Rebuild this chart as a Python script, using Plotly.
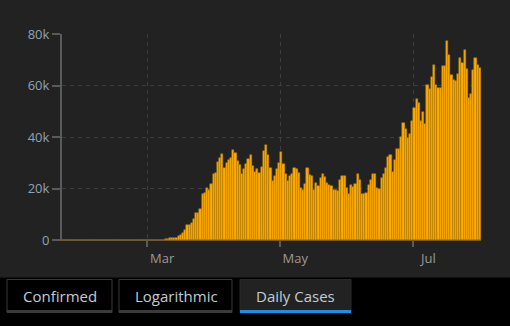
import pandas as pd
import plotly.graph_objects as go

# Daily new cases (US), Jan 22 - Jul 31 2020
jan = [1, 0, 1, 0, 3, 0, 0, 0, 1, 1]
feb = [1, 1, 3, 0, 1, 0, 0, 0, 0, 0, 1, 1, 1, 0, 0, 0, 10, 0, 0, 0,
       2, 0, 0, 18, 0, 6, 1, 2, 8]
mar = [6, 23, 20, 31, 68, 45, 140, 116, 200, 300, 700, 800, 800, 750,
       1500, 2000, 2800, 3800, 5700, 5800, 6600, 8200, 10400, 10600,
       12000, 18000, 18400, 20200, 19400, 21700, 25800]
apr = [26200, 30400, 31800, 33400, 28000, 30000, 30900, 31800, 34800,
       33900, 30500, 29000, 25700, 27600, 29500, 31400, 32900, 28600,
       26300, 27600, 26000, 28500, 34600, 36800, 33100, 28000, 22800,
       24700, 27600, 30000]
may = [34300, 29500, 25700, 22800, 24700, 25600, 28000, 27600, 26000,
       20200, 19300, 21800, 28000, 25200, 24700, 19300, 22100, 20800,
       24000, 25600, 24600, 22100, 21200, 20800, 19400, 19300, 19000,
       23200, 24700, 24700, 20200]
jun = [18000, 21200, 20500, 21700, 25600, 23200, 18000, 18000, 18200,
       21200, 23200, 25600, 25600, 20200, 19900, 24000, 25600, 28000,
       32100, 32900, 26400, 30900, 35300, 35300, 40100, 45500, 43100,
       39700, 41200, 46100]
jul = [51300, 54800, 53300, 46100, 49800, 45200, 60100, 58800, 63400,
       67800, 60100, 59000, 59000, 67400, 67400, 77100, 71800, 64100,
       62100, 61600, 64500, 70800, 68800, 73700, 66500, 55300, 56800,
       66000, 70800, 67800, 66900]

daily_cases = jan + feb + mar + apr + may + jun + jul
start_date = "2020-01-22"
dates = pd.date_range(start_date, periods=len(daily_cases), freq="D")

x_range = ["2020-01-22", "2020-08-01"]
x_tickvals = ["2020-03-01", "2020-05-01", "2020-07-01"]
x_ticktext = ["Mar", "May", "Jul"]
y_tickvals = [0, 20000, 40000, 60000, 80000]
y_ticktext = ["0", "20k", "40k", "60k", "80k"]
tab_labels = ["Confirmed", "Logarithmic", "Daily Cases"]

W, H = 510, 326
ML, MR, MT, MB = 62, 29, 34, 86
PW, PH = W - ML - MR, H - MT - MB


def px(x):
    return (x - ML) / PW


def py(y):
    return (H - MB - y) / PH


fig = go.Figure()
fig.add_trace(go.Bar(
    x=dates, y=daily_cases,
    xperiod=86400000, xperiodalignment="middle",
    marker=dict(color="#FFAA00", line=dict(color="#b57c00", width=0.5)),
    hoverinfo="x+y",
))

shapes = []
# bottom black band
shapes.append(dict(type="rect", xref="paper", yref="paper",
                   x0=px(0), x1=px(W), y0=py(H), y1=py(277.5),
                   fillcolor="#000000", line=dict(width=0), layer="below"))
tabs = [(7, 112), (119, 232), (240, 351)]
for i, (a, b) in enumerate(tabs):
    active = i == 2
    shapes.append(dict(type="rect", xref="paper", yref="paper",
                       x0=px(a), x1=px(b), y0=py(312.5), y1=py(279.5),
                       fillcolor="#222222" if active else "#000000",
                       line=dict(color="#2a2a2a" if active else "#383838", width=1),
                       layer="above"))
    shapes.append(dict(type="rect", xref="paper", yref="paper",
                       x0=px(a), x1=px(b), y0=py(313), y1=py(310),
                       fillcolor="#1e8fe6" if active else "#3a3a3a",
                       line=dict(width=0), layer="above"))

annotations = []
centers = [59.5, 176, 295.5]
for lab, cx in zip(tab_labels, centers):
    annotations.append(dict(text=lab, xref="paper", yref="paper",
                            x=px(cx), y=py(295.5), xanchor="center", yanchor="middle",
                            showarrow=False,
                            font=dict(family="Open Sans", size=15, color="#c3ccd4")))

fig.update_layout(
    width=W, height=H,
    margin=dict(l=ML, r=MR, t=MT, b=MB),
    paper_bgcolor="#222222", plot_bgcolor="#222222",
    bargap=0, showlegend=False,
    font=dict(family="Open Sans", size=13, color="#9aa9b6"),
    shapes=shapes, annotations=annotations,
    xaxis=dict(
        type="date", range=x_range,
        tickvals=x_tickvals, ticktext=x_ticktext,
        ticks="outside", ticklen=6, tickcolor="#5a5a5a", tickwidth=2,
        showline=True, linecolor="#6e5a34",
        showgrid=True, gridcolor="#3d3d3d", griddash="4px,4px",
        tickfont=dict(color="#9a9a9a", size=13),
        ticklabelshift=15,
        fixedrange=True,
    ),
    yaxis=dict(
        range=[0, 80000],
        tickvals=y_tickvals, ticktext=y_ticktext,
        ticks="outside", ticklen=8, tickcolor="#5a5a5a", tickwidth=2,
        showline=True, linecolor="#5a5a5a", linewidth=2,
        showgrid=True, gridcolor="#3d3d3d", griddash="4px,4px",
        zeroline=False,
        tickfont=dict(color="#8ea3b6", size=13),
        fixedrange=True,
    ),
)

fig.write_html("out.html", config={"displayModeBar": False})
